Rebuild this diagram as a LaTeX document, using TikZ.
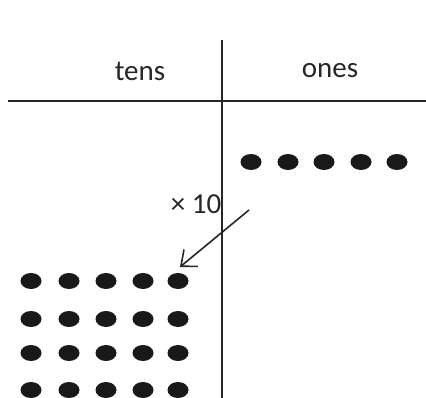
\documentclass[tikz,border=0pt]{standalone}
\usepackage{fontspec}
\setmainfont{Carlito}
\usetikzlibrary{arrows.meta}

\begin{document}
\begin{tikzpicture}[x=1pt, y=-1pt]
    % Define styles
    \tikzstyle{label} = [font=\fontsize{29}{32}\selectfont, text=black!85, inner sep=0pt]
    \tikzstyle{rule} = [draw, line width=2pt, black!85]
    \tikzstyle{dot} = [fill=black!90]
    \tikzstyle{line} = [draw, line width=1.6pt, black!85, -{Straight Barb[length=13pt, width=22pt, line width=1.6pt]}]

    \useasboundingbox (0,0) rectangle (426,398);

    % Place table lines
    \path [rule] (222,40) -- (222,398);
    \path [rule] (8,101) -- (426,101);

    % Place headings
    \node [label] (tens) at (140,71.5) {tens};
    \node [label] (ones) at (330,70.5) {ones};

    % Ones dots
    \foreach \x in {251,288,324,361,397}
        \path [dot] (\x,162) ellipse (10.5pt and 8pt);

    % Tens dots
    \foreach \y in {281,319,353,390}
        \foreach \x in {31,69,106,143,178}
            \path [dot] (\x,\y) ellipse (10.5pt and 8pt);

    % Arrow with label
    \coordinate (from) at (249,210);
    \coordinate (to) at (180,267);
    \path [line] (from) -- (to);
    \node [label] (times) at (196,204) {× 10};

\end{tikzpicture}
\end{document}
